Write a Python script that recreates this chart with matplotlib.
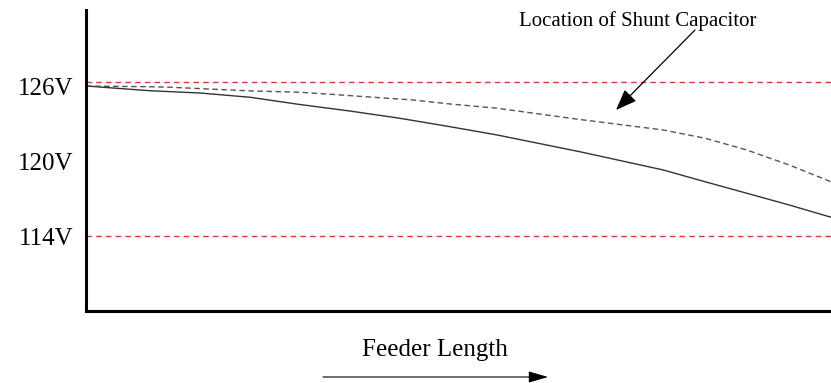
import matplotlib
matplotlib.use("Agg")
import matplotlib.pyplot as plt

# Data (feeder length as fraction of total, voltage in V)
pos_without_cap = [0.0, 0.086, 0.153, 0.220, 0.287, 0.354, 0.421, 0.489,
                   0.552, 0.663, 0.775, 0.831, 0.887, 0.944, 1.0]
v_without_cap = [126.0, 125.62, 125.44, 125.1, 124.52, 124.0, 123.42, 122.74,
                 122.08, 120.74, 119.28, 118.34, 117.42, 116.48, 115.5]
pos_with_cap = [0.0, 0.086, 0.113, 0.224, 0.287, 0.328, 0.439, 0.489,
                0.552, 0.663, 0.775, 0.831, 0.887, 0.944, 1.0]
v_with_cap = [126.0, 125.94, 125.9, 125.6, 125.5, 125.34, 124.88, 124.56,
              124.22, 123.32, 122.48, 121.82, 120.88, 119.68, 118.34]
limit_upper = 126.35
limit_lower = 114.0
ytick_vals = [126, 120, 114]
ytick_labels = ["126V", "120V", "114V"]

serif = ["Liberation Serif", "DejaVu Serif"]

fig = plt.figure(figsize=(8.31, 3.83), dpi=100)
ax = fig.add_axes([86 / 831, 1 - 311 / 383, 1 - 86 / 831, (311 - 10) / 383])

ax.axhline(limit_upper, color="#d43a3a", lw=1.0, ls=(0, (4, 3)))
ax.axhline(limit_lower, color="#d43a3a", lw=1.0, ls=(0, (4, 3)))
ax.plot(pos_without_cap, v_without_cap, color="#333333", lw=1.0)
ax.plot(pos_with_cap, v_with_cap, color="#555555", lw=1.0, ls=(0, (4, 2.5)))

ax.set_xlim(0, 1)
ax.set_ylim(108, 132.08)
ax.set_xticks([])
ax.set_yticks(ytick_vals)
ax.set_yticklabels(ytick_labels, family=serif, fontsize=18)
ax.tick_params(axis="y", length=0, pad=9)

for s in ["top", "right"]:
    ax.spines[s].set_visible(False)
for s in ["left", "bottom"]:
    ax.spines[s].set_linewidth(2.2)
    ax.spines[s].set_color("black")

# Annotation for shunt capacitor
ax.annotate("", xy=(616 / 831, 1 - 110 / 383), xycoords="figure fraction",
            xytext=(695 / 831, 1 - 30 / 383), textcoords="figure fraction",
            arrowprops=dict(arrowstyle="-|>,head_length=1.3,head_width=0.5",
                            color="black", lw=0.9, shrinkA=0, shrinkB=0))
fig.text(638 / 831, 1 - 21 / 383, "Location of Shunt Capacitor",
         family=serif, fontsize=15, ha="center", va="center")

# X label with arrow
fig.text(435 / 831, 1 - 350 / 383, "Feeder Length", family=serif,
         fontsize=18, ha="center", va="center")
ax.annotate("", xy=(548 / 831, 1 - 377 / 383), xycoords="figure fraction",
            xytext=(323 / 831, 1 - 377 / 383), textcoords="figure fraction",
            arrowprops=dict(arrowstyle="-|>,head_length=1.2,head_width=0.35",
                            color="black", lw=0.8, shrinkA=0, shrinkB=0))

fig.savefig("out.png", dpi=100)
